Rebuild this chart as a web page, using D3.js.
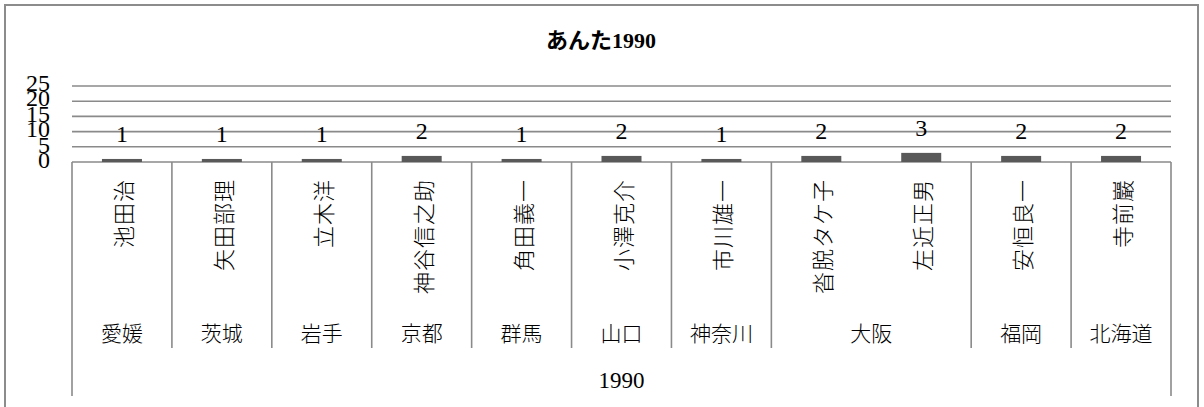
<!DOCTYPE html>
<html>
<head>
<meta charset="utf-8">
<script src="https://cdn.jsdelivr.net/npm/d3@7"></script>
<style>
  html, body { margin: 0; padding: 0; background: #fff; }
  svg { display: block; }
  text { fill: #000; }
</style>
</head>
<body>
<svg id="chart"></svg>
<script>
// chart data
const names = ["池田治", "矢田部理", "立木洋", "神谷信之助", "角田義一", "小澤克介",
               "市川雄一", "沓脱タケ子", "左近正男", "安恒良一", "寺前巖"];
const prefs = ["愛媛", "茨城", "岩手", "京都", "群馬", "山口",
               "神奈川", "大阪", "大阪", "福岡", "北海道"];
const values = [1, 1, 1, 2, 1, 2, 1, 2, 3, 2, 2];
const yTicks = [0, 5, 10, 15, 20, 25];
const yearLabel = "1990";
const title = "あんた1990";

const width = 1204;
const height = 407;
const serif = "'Liberation Serif', 'Noto Sans CJK JP', serif";
const gothic = "'Noto Sans CJK JP', sans-serif";

const svg = d3.select("#chart")
  .attr("width", width)
  .attr("height", height);

// outer frame
svg.append("rect")
  .attr("x", 5).attr("y", 5)
  .attr("width", 1193).attr("height", 430)
  .attr("fill", "#fff")
  .attr("stroke", "#8c8c8c")
  .attr("stroke-width", 2);

// title
svg.append("text")
  .attr("x", 601).attr("y", 48)
  .attr("text-anchor", "middle")
  .attr("font-family", serif)
  .attr("font-weight", "bold")
  .attr("font-size", 22)
  .text(title);

// scales
const x = d3.scaleBand()
  .domain(d3.range(names.length))
  .range([72, 1171])
  .paddingInner(0)
  .paddingOuter(0);

const y = d3.scaleLinear()
  .domain([0, 25])
  .range([162, 86]);

// gridlines
svg.append("g")
  .selectAll("line")
  .data(yTicks)
  .join("line")
  .attr("x1", 72).attr("x2", 1171)
  .attr("y1", d => y(d)).attr("y2", d => y(d))
  .attr("stroke", "#8a8a8a")
  .attr("stroke-width", 1.6);

// y tick labels (crammed together as in the original)
svg.append("g")
  .selectAll("text")
  .data(yTicks)
  .join("text")
  .attr("x", 50)
  .attr("y", d => y(d) + 6 - d * 0.04)
  .attr("text-anchor", "end")
  .attr("font-family", serif)
  .attr("font-size", 24)
  .text(d => d);

// bars
const barW = 40;
svg.append("g")
  .selectAll("rect")
  .data(values)
  .join("rect")
  .attr("x", (d, i) => x(i) + x.bandwidth() / 2 - barW / 2)
  .attr("y", d => y(d))
  .attr("width", barW)
  .attr("height", d => y(0) - y(d))
  .attr("fill", "#595959");

// value labels
svg.append("g")
  .selectAll("text")
  .data(values)
  .join("text")
  .attr("x", (d, i) => x(i) + x.bandwidth() / 2)
  .attr("y", d => y(d) - 17)
  .attr("text-anchor", "middle")
  .attr("font-family", serif)
  .attr("font-size", 24)
  .text(d => d);

// category axis: names rotated, then prefecture groups, then year
const axis = svg.append("g");

axis.selectAll("text.name")
  .data(names)
  .join("text")
  .attr("class", "name")
  .attr("transform", (d, i) => "translate(" + (x(i) + x.bandwidth() / 2) + ",179) rotate(-90)")
  .attr("text-anchor", "end")
  .attr("dominant-baseline", "central")
  .attr("font-family", gothic)
  .attr("font-weight", 300)
  .attr("font-size", 22)
  .attr("letter-spacing", 1)
  .text(d => d);

// group consecutive prefectures
const groups = [];
prefs.forEach(function (p, i) {
  const last = groups[groups.length - 1];
  if (last && last.name === p) last.end = i;
  else groups.push({ name: p, start: i, end: i });
});

axis.selectAll("text.pref")
  .data(groups)
  .join("text")
  .attr("class", "pref")
  .attr("x", d => (x(d.start) + x(d.end) + x.bandwidth()) / 2)
  .attr("y", 341)
  .attr("text-anchor", "middle")
  .attr("font-family", gothic)
  .attr("font-weight", 300)
  .attr("font-size", 21)
  .text(d => d.name);

// divider lines between groups
const bounds = groups.map(d => x(d.start)).concat([x(names.length - 1) + x.bandwidth()]);
axis.selectAll("line.div")
  .data(bounds)
  .join("line")
  .attr("class", "div")
  .attr("x1", d => d).attr("x2", d => d)
  .attr("y1", 162)
  .attr("y2", (d, i) => (i === 0 || i === bounds.length - 1) ? 396 : 348)
  .attr("stroke", "#8a8a8a")
  .attr("stroke-width", 1.6);

axis.append("text")
  .attr("x", (x(0) + x(names.length - 1) + x.bandwidth()) / 2)
  .attr("y", 388)
  .attr("text-anchor", "middle")
  .attr("font-family", serif)
  .attr("font-size", 23)
  .text(yearLabel);
</script>
</body>
</html>
